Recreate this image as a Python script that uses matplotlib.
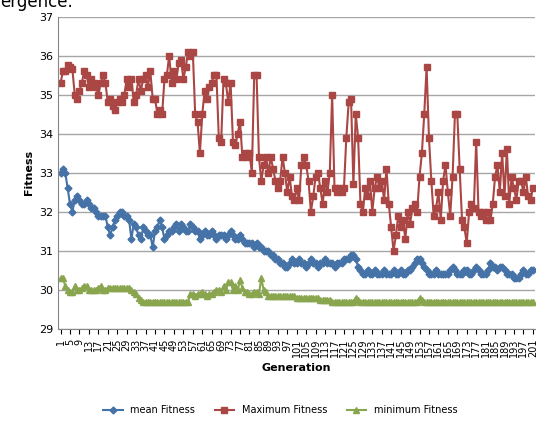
import matplotlib.pyplot as plt

generations = list(range(1, 202))

max_fitness = [
    35.3, 35.6, 35.6, 35.75, 35.7, 35.65, 35.0, 34.9, 35.1, 35.3,
    35.6, 35.5, 35.2, 35.4, 35.3, 35.2, 35.0, 35.3, 35.5, 35.3,
    34.8, 34.9, 34.7, 34.6, 34.8, 34.9, 34.8, 35.0, 35.4, 35.2,
    35.4, 34.8, 35.0, 35.4, 35.1, 35.4, 35.5, 35.2, 35.6, 34.9,
    34.9, 34.5, 34.6, 34.5, 35.4, 35.5, 36.0, 35.3, 35.6, 35.4,
    35.8, 35.9, 35.4, 35.7, 36.1, 36.0, 36.1, 34.5, 34.3, 33.5,
    34.5, 35.1, 34.9, 35.2, 35.3, 35.5, 35.5, 33.9, 33.8, 35.4,
    35.3, 34.8, 35.3, 33.8, 33.7, 34.0, 34.3, 33.4, 33.5, 33.4,
    33.5, 33.0, 35.5, 35.5, 33.4, 32.8, 33.2, 33.4, 33.0, 33.4,
    33.1, 32.8, 32.6, 32.8, 33.4, 33.0, 32.5, 32.9, 32.4, 32.3,
    32.6, 32.3, 33.2, 33.4, 33.2, 32.8, 32.0, 32.4, 32.9, 33.0,
    32.6, 32.2, 32.8, 32.5, 33.0, 35.0, 32.6, 32.5, 32.6, 32.5,
    32.6, 33.9, 34.8, 34.9, 32.7, 34.5, 33.9, 32.2, 32.0, 32.6,
    32.4, 32.8, 32.0, 32.6, 32.9, 32.6, 32.8, 32.3, 33.1, 32.2,
    31.6, 31.0, 31.4, 31.9, 31.6, 31.8, 31.3, 32.0, 31.7, 32.1,
    32.2, 32.0, 32.9, 33.5, 34.5, 35.7, 33.9, 32.8, 31.9, 32.1,
    32.5, 31.8, 32.8, 33.2, 32.5, 31.9, 32.9, 34.5, 34.5, 33.1,
    31.8, 31.6, 31.2, 32.0, 32.2, 32.1, 33.8, 32.0, 31.9, 32.0,
    31.8, 32.0, 31.8, 32.2, 32.9, 33.2, 32.5, 33.5, 32.4, 33.6,
    32.2, 32.9, 32.6, 32.3, 32.8, 32.8, 32.5, 32.9, 32.4, 32.3,
    32.6,
]

mean_fitness = [
    33.0, 33.1, 33.0, 32.6, 32.2, 32.0, 32.3, 32.4, 32.3, 32.2,
    32.2, 32.3, 32.2, 32.1, 32.1, 32.0, 31.9, 31.9, 31.9, 31.9,
    31.6, 31.4, 31.6, 31.8, 31.9, 32.0, 32.0, 31.9, 31.9, 31.8,
    31.3, 31.7, 31.6, 31.4, 31.3, 31.6, 31.5, 31.4, 31.4, 31.1,
    31.5, 31.6, 31.8, 31.6, 31.3, 31.4, 31.5, 31.5, 31.6, 31.7,
    31.5, 31.7, 31.6, 31.5, 31.5, 31.7, 31.6, 31.5, 31.5, 31.3,
    31.4, 31.5, 31.4, 31.4, 31.5, 31.4, 31.3, 31.4, 31.4, 31.4,
    31.3, 31.4, 31.5, 31.4, 31.3, 31.3, 31.4, 31.3, 31.2, 31.2,
    31.2, 31.2, 31.1, 31.2, 31.1, 31.1, 31.0, 31.0, 31.0, 30.9,
    30.9, 30.8, 30.8, 30.7, 30.7, 30.6, 30.6, 30.7, 30.8, 30.7,
    30.7, 30.8, 30.7, 30.7, 30.6, 30.7, 30.8, 30.7, 30.7, 30.6,
    30.7, 30.7, 30.8, 30.7, 30.7, 30.7, 30.6, 30.7, 30.7, 30.7,
    30.8, 30.8, 30.8, 30.9, 30.9, 30.8, 30.6, 30.5, 30.4, 30.4,
    30.5, 30.4, 30.4, 30.5, 30.4, 30.4, 30.4, 30.5, 30.4, 30.4,
    30.4, 30.5, 30.4, 30.4, 30.5, 30.4, 30.4, 30.5, 30.5, 30.6,
    30.7, 30.8, 30.8, 30.7, 30.6, 30.5, 30.4, 30.4, 30.4, 30.5,
    30.4, 30.4, 30.4, 30.4, 30.4, 30.5, 30.6, 30.5, 30.4, 30.4,
    30.4, 30.5, 30.5, 30.4, 30.4, 30.5, 30.6, 30.5, 30.4, 30.4,
    30.4, 30.5, 30.7, 30.6, 30.6, 30.5, 30.6, 30.6, 30.5, 30.4,
    30.4, 30.4, 30.3, 30.3, 30.3, 30.4, 30.5, 30.4, 30.4, 30.5,
    30.5,
]

min_fitness = (
    [30.3, 30.3, 30.1, 30.0, 29.95, 29.95, 30.1, 30.0, 30.0, 30.05,
     30.1, 30.1, 30.0, 30.0, 30.0, 30.0, 30.05, 30.1, 30.0, 30.0]
    + [30.05] * 10
    + [30.0, 29.95, 29.9, 29.8, 29.75, 29.7]
    + [29.7] * 19
    + [29.9, 29.9, 29.85, 29.9, 29.9,
       29.95, 29.9, 29.85, 29.9, 29.9, 29.95, 30.0, 30.0, 29.95, 30.1,
       30.0, 30.2, 30.2, 30.0, 30.1, 30.0, 30.25, 30.05, 29.95, 29.95,
       29.9, 29.9, 29.95, 29.95, 29.9, 30.3, 30.0, 29.95]
    + [29.85] * 12
    + [29.8] * 10
    + [29.75] * 5
    + [29.7] * 10
    + [29.8, 29.75]
    + [29.7] * 25
    + [29.8, 29.75]
    + [29.7] * 47
)

fig = plt.figure(figsize=(5.39, 4.24), dpi=100)
ax = fig.add_axes([0.108, 0.224, 0.885, 0.737])

ax.plot(generations, mean_fitness, color="#4572A7", marker="D", markersize=3.5, linewidth=1.5, label="mean Fitness")
ax.plot(generations, max_fitness, color="#AA4643", marker="s", markersize=4.5, linewidth=1.5, label="Maximum Fitness")
ax.plot(generations, min_fitness, color="#89A54E", marker="^", markersize=4.5, linewidth=1.5, label="minimum Fitness")

ax.set_ylim(29, 37)
ax.set_xlim(0, 202)
ax.set_yticks(range(29, 38))
ax.set_xticks(generations[::4])
ax.tick_params(axis="x", rotation=90, labelsize=7)
ax.tick_params(axis="y", labelsize=8, length=0)
ax.grid(axis="y", color="#a6a6a6", linewidth=1)
ax.set_axisbelow(True)
for side in ["top", "right"]:
    ax.spines[side].set_visible(False)
ax.spines["left"].set_color("#868686")
ax.spines["bottom"].set_color("#868686")

ax.set_ylabel("Fitness", fontweight="bold", fontsize=8)
ax.set_xlabel("Generation", fontweight="bold", fontsize=8)
fig.legend(loc="lower center", ncol=3, frameon=False, fontsize=7, bbox_to_anchor=(0.52, 0.0))
fig.text(0.0, 0.995, "ergence.", fontsize=12, va="center")

fig.savefig("out.png", dpi=100)
